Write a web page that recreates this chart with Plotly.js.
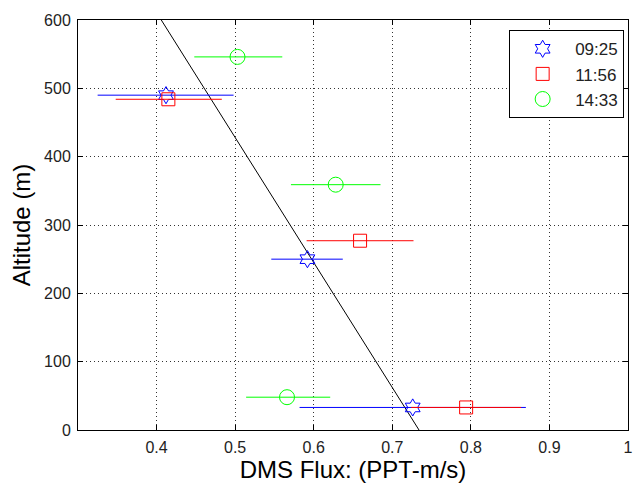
<!DOCTYPE html>
<html><head><meta charset="utf-8">
<script src="https://cdn.plot.ly/plotly-3.0.1.min.js"></script>
<style>body{margin:0;background:#fff}#c{width:634px;height:483px}</style>
</head><body><div id="c"></div>
<script>
const seriesNames = ["09:25", "11:56", "14:33"];
const altitude0925 = [490, 250, 33];
const flux0925 = [0.412, 0.592, 0.726];
const fluxLo0925 = [0.325, 0.546, 0.582];
const fluxHi0925 = [0.498, 0.637, 0.870];
const altitude1156 = [484, 277, 33];
const flux1156 = [0.415, 0.659, 0.794];
const fluxLo1156 = [0.348, 0.591, 0.724];
const fluxHi1156 = [0.483, 0.727, 0.864];
const altitude1433 = [546, 359, 48];
const flux1433 = [0.503, 0.628, 0.566];
const fluxLo1433 = [0.448, 0.571, 0.514];
const fluxHi1433 = [0.560, 0.685, 0.621];
const fitFlux = [0.406, 0.734];
const fitAlt = [600, 0];
const xTicks = [0.4, 0.5, 0.6, 0.7, 0.8, 0.9, 1];
const xTickText = ['0.4', '0.5', '0.6', '0.7', '0.8', '0.9', '1'];

function mk(name, x, y, lo, hi, color, symbol, size) {
  return {
    type: 'scatter', mode: 'markers', name: name, x: x, y: y,
    marker: {symbol: symbol, size: size, color: color, line: {color: color, width: 1}},
    error_x: {type: 'data', symmetric: false,
      array: x.map((v, i) => hi[i] - v), arrayminus: x.map((v, i) => v - lo[i]),
      color: color, thickness: 1, width: 0}
  };
}
const traces = [
  {type: 'scatter', mode: 'lines', x: fitFlux, y: fitAlt, line: {color: 'black', width: 1}, showlegend: false, hoverinfo: 'skip'},
  mk(seriesNames[0], flux0925, altitude0925, fluxLo0925, fluxHi0925, '#0000ff', 'hexagram-open', 13),
  mk(seriesNames[1], flux1156, altitude1156, fluxLo1156, fluxHi1156, '#ff0000', 'square-open', 13),
  mk(seriesNames[2], flux1433, altitude1433, fluxLo1433, fluxHi1433, '#00ff00', 'circle-open', 15)
];
const axisCommon = {
  showline: true, mirror: 'ticks', linecolor: 'black', linewidth: 1,
  ticks: 'inside', ticklen: 5, tickcolor: 'black',
  showgrid: true, gridcolor: '#333', griddash: '1px,3px', gridwidth: 1,
  zeroline: false, tickfont: {family: 'Liberation Sans, Arial', size: 16, color: '#222'}
};
const layout = {
  width: 634, height: 483,
  margin: {l: 78, r: 6, t: 20, b: 53},
  paper_bgcolor: 'white', plot_bgcolor: 'white',
  font: {family: 'Liberation Sans, Arial', color: 'black'},
  xaxis: Object.assign({}, axisCommon, {range: [0.3, 1.0], tickvals: xTicks, ticktext: xTickText, ticklabelstandoff: 3,
    title: {text: 'DMS Flux: (PPT-m/s)', font: {size: 24}, standoff: 4}}),
  yaxis: Object.assign({}, axisCommon, {range: [0, 600], dtick: 100, ticklabelstandoff: 3,
    title: {text: 'Altitude (m)', font: {size: 24}, standoff: 6}}),
  legend: {x: 0.993, y: 0.975, xanchor: 'right', yanchor: 'top', bgcolor: 'white',
    bordercolor: 'black', borderwidth: 1, font: {size: 17, color: '#222'}, itemwidth: 55, tracegroupgap: 0},
  showlegend: true
};
Plotly.newPlot('c', traces, layout, {displayModeBar: false, staticPlot: true});
</script></body></html>
